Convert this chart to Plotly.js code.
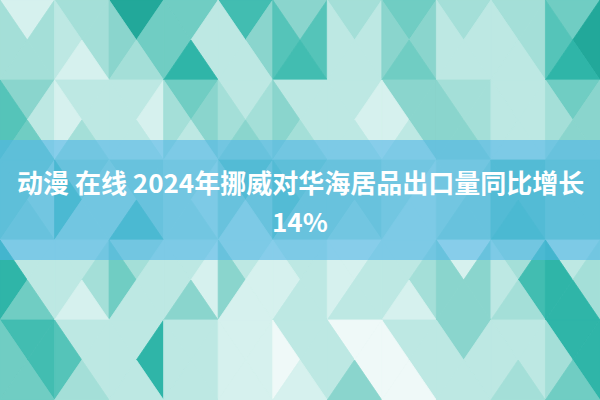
<!DOCTYPE html>
<html>
<head>
<meta charset="utf-8">
<script src="https://cdn.plot.ly/plotly-3.0.1.min.js"></script>
<style>
  html, body { margin: 0; padding: 0; background: #ffffff; }
  #chart { width: 600px; height: 400px; }
</style>
</head>
<body>
<div id="chart"></div>
<script>
// === triangle mosaic, shade 0 (dark teal) .. 10 (near white) ===
// grid: x in half-columns (0..22), y in rows of 40px (0..10)
// even rows l: diamonds at k = 1,3,..,21 split into top / bottom halves
// odd rows l: diamonds at k = 0,2,..,22 split into left / right halves

const row0Bottom = [9, 7, 1, 5, 3, 6, 7, 5, 7, 7, 5];
const row1Right  = [7, 8, 6, 5, 8, 4, 8, 6, 8, 8, 4];   // k = 0..20
const row1Left   = [7, 7, 5, 8, 6, 4, 8, 6, 8, 7, 1];   // k = 2..22
const row2Top    = [7, 9, 7, 2, 8, 3, 8, 5, 8, 8, 2];
const row2Bottom = [6, 8, 8, 5, 8, 8, 8, 6, 7, 8, 5];
const row3Right  = [4, 9, 8, 7, 7, 6, 8, 9, 6, 8, 7];
const row3Left   = [8, 8, 9, 6, 7, 8, 9, 6, 7, 8, 6];
const row4Top    = [5, 7, 8, 8, 6, 7, 8, 8, 6, 8, 6];
const row4Bottom = [5, 6, 6, 7, 4, 5, 6, 7, 7, 4, 5];
const row5Right  = [5, 3, 7, 7, 6, 4, 6, 7, 7, 4, 5];
const row5Left   = [7, 7, 6, 8, 6, 6, 6, 8, 6, 4, 5];
const row6Top    = [6, 7, 3, 7, 8, 6, 7, 8, 6, 3, 5];
const row6Bottom = [8, 8, 7, 8, 8, 8, 9, 8, 9, 7, 8];
const row7Right  = [2, 8, 5, 8, 6, 9, 9, 8, 6, 8, 2];
const row7Left   = [8, 7, 8, 9, 9, 8, 8, 7, 6, 3, 7];
const row8Top    = [5, 9, 8, 6, 9, 8, 8, 9, 6, 7, 2];
const row8Bottom = [3, 8, 8, 8, 9, 8, 10, 8, 6, 8, 2];
const row9Right  = [5, 4, 8, 8, 9, 10, 8, 10, 8, 8, 7];
const row9Left   = [3, 8, 2, 8, 9, 8, 10, 8, 8, 8, 2];
const row10Top   = [5, 7, 8, 8, 9, 9, 6, 10, 8, 7, 5];

const titleLine1 = "动漫 在线 2024年挪威对华海居品出口量同比增长";
const titleLine2 = "14%";

// colour stops for the shade scale
const shadeStops = [
  [0, [20, 154, 140]],
  [2, [47, 181, 168]],
  [4, [85, 196, 185]],
  [6, [138, 213, 205]],
  [8, [189, 232, 227]],
  [10, [239, 249, 248]],
];

function shadeColor(v) {
  for (let i = 1; i < shadeStops.length; i++) {
    const [v0, c0] = shadeStops[i - 1];
    const [v1, c1] = shadeStops[i];
    if (v <= v1) {
      const t = (v - v0) / (v1 - v0);
      const c = c0.map((a, j) => Math.round(a + (c1[j] - a) * t));
      return `rgb(${c[0]},${c[1]},${c[2]})`;
    }
  }
  const last = shadeStops[shadeStops.length - 1][1];
  return `rgb(${last.join(",")})`;
}

const traces = [];
function addTri(xs, ys, v) {
  const col = shadeColor(v);
  traces.push({
    type: "scatter",
    x: xs.concat(xs[0]),
    y: ys.concat(ys[0]),
    mode: "lines",
    fill: "toself",
    fillcolor: col,
    line: { color: col, width: 0.8 },
    hoverinfo: "skip",
    showlegend: false,
  });
}

// horizontal split rows
function evenRow(l, tops, bottoms) {
  for (let i = 0; i < 11; i++) {
    const k = 2 * i + 1;
    if (tops) addTri([k - 1, k + 1, k], [l, l, l - 1], tops[i]);
    if (bottoms) addTri([k - 1, k + 1, k], [l, l, l + 1], bottoms[i]);
  }
}

// vertical split rows
function oddRow(l, rights, lefts) {
  for (let i = 0; i < 11; i++) {
    const kr = 2 * i;
    addTri([kr, kr + 1, kr], [l - 1, l, l + 1], rights[i]);
    const kl = 2 * i + 2;
    addTri([kl, kl - 1, kl], [l - 1, l, l + 1], lefts[i]);
  }
}

evenRow(0, null, row0Bottom);
oddRow(1, row1Right, row1Left);
evenRow(2, row2Top, row2Bottom);
oddRow(3, row3Right, row3Left);
evenRow(4, row4Top, row4Bottom);
oddRow(5, row5Right, row5Left);
evenRow(6, row6Top, row6Bottom);
oddRow(7, row7Right, row7Left);
evenRow(8, row8Top, row8Bottom);
oddRow(9, row9Right, row9Left);
evenRow(10, row10Top, null);

const titleFont = {
  family: "Noto Sans CJK SC, Noto Sans, sans-serif",
  size: 26,
  color: "#ffffff",
  weight: "bold",
};

const layout = {
  width: 600,
  height: 400,
  margin: { l: 0, r: 0, t: 0, b: 0 },
  paper_bgcolor: "#bde8e3",
  plot_bgcolor: "#bde8e3",
  xaxis: { range: [0, 22], visible: false, fixedrange: true },
  yaxis: { range: [10, 0], visible: false, fixedrange: true },
  shapes: [
    {
      type: "rect",
      xref: "paper", yref: "y",
      x0: 0, x1: 1, y0: 3.5, y1: 6.5,
      fillcolor: "rgba(82,182,231,0.6)",
      line: { width: 0 },
      layer: "above",
    },
  ],
  annotations: [
    {
      xref: "paper", yref: "y",
      x: 0.5, y: 4.53,
      text: titleLine1,
      showarrow: false,
      font: titleFont,
      xanchor: "center", yanchor: "middle",
    },
    {
      xref: "paper", yref: "y",
      x: 0.5, y: 5.5,
      text: titleLine2,
      showarrow: false,
      font: titleFont,
      xanchor: "center", yanchor: "middle",
    },
  ],
};

Plotly.newPlot("chart", traces, layout, { staticPlot: true, displayModeBar: false });
</script>
</body>
</html>
